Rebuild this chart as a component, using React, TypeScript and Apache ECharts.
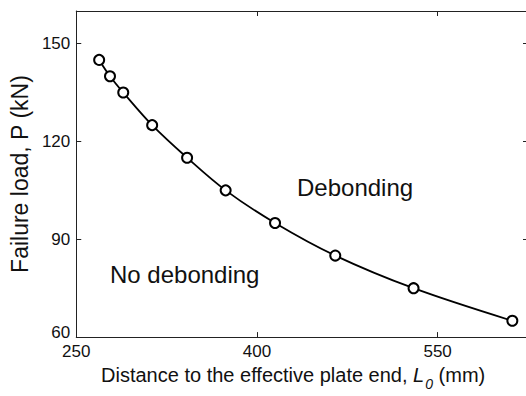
import React, { useEffect, useRef } from "react";
import * as echarts from "echarts";

const distances = [269, 278, 289, 313, 342, 374, 415, 465, 530, 612];
const failureLoads = [145, 140, 135, 125, 115, 105, 95, 85, 75, 65];
const xTickStart = 250;
const xTickStep = 150;
const yTickStart = 60;
const yTickStep = 30;

const textFont = '"Liberation Sans", Arial, sans-serif';
const axisColor = "#222";

export default function App() {
  const ref = useRef<HTMLDivElement>(null);
  useEffect(() => {
    if (!ref.current) return;
    const chart = echarts.init(ref.current, null, { renderer: "svg" });
    const axisLine = { show: true, onZero: false, lineStyle: { color: axisColor, width: 1 } };
    const tick = { show: true, inside: true, length: 5, lineStyle: { color: axisColor, width: 1 } };
    chart.setOption({
      animation: false,
      backgroundColor: "#fff",
      grid: { left: 66, top: 11, right: 0, bottom: 51, containLabel: false },
      xAxis: [
        {
          type: "value",
          position: "bottom",
          min: xTickStart,
          max: 625,
          interval: xTickStep,
          axisLine,
          axisTick: tick,
          splitLine: { show: false },
          axisLabel: {
            showMaxLabel: false,
            color: "#111",
            fontFamily: textFont,
            fontSize: 17,
            margin: 6,
          },
          name: "Distance to the effective plate end, {i|L}{s|0}{n| (mm)}",
          nameLocation: "middle",
          nameGap: 22,
          nameTextStyle: {
            color: "#111",
            fontFamily: textFont,
            fontSize: 20,
            padding: [0, 18, 0, 0],
            rich: {
              i: { fontFamily: textFont, fontSize: 20, fontStyle: "italic", color: "#111" },
              s: { fontFamily: textFont, fontSize: 14, fontStyle: "italic", color: "#111", verticalAlign: "bottom", lineHeight: 14, padding: [0, 0, -6, 1] },
              n: { fontFamily: textFont, fontSize: 20, color: "#111" },
            },
          },
        },
        {
          type: "value",
          position: "top",
          min: xTickStart,
          max: 625,
          interval: xTickStep,
          axisLine,
          axisTick: tick,
          splitLine: { show: false },
          axisLabel: { show: false },
        },
      ],
      yAxis: [
        {
          type: "value",
          position: "left",
          min: yTickStart,
          max: 160,
          interval: yTickStep,
          axisLine,
          axisTick: tick,
          splitLine: { show: false },
          axisLabel: {
            showMaxLabel: false,
            color: "#111",
            fontFamily: textFont,
            fontSize: 17,
            margin: 6,
            formatter: (v: number) => (v === yTickStart ? "{lift|" + v + "}" : String(v)),
            rich: {
              lift: { fontFamily: textFont, fontSize: 17, color: "#111", padding: [0, 0, 9, 0] },
            },
          },
          name: "Failure load, P (kN)",
          nameLocation: "middle",
          nameGap: 29,
          nameTextStyle: { color: "#111", fontFamily: textFont, fontSize: 23 },
        },
        {
          type: "value",
          position: "right",
          min: yTickStart,
          max: 160,
          interval: yTickStep,
          axisLine,
          axisTick: tick,
          splitLine: { show: false },
          axisLabel: { show: false },
        },
      ],
      series: [
        {
          type: "line",
          xAxisIndex: 0,
          yAxisIndex: 0,
          data: distances.map((d, i) => [d, failureLoads[i]]),
          smooth: 0.35,
          symbol: "emptyCircle",
          symbolSize: 10,
          lineStyle: { color: "#000", width: 1.8 },
          itemStyle: { color: "#000", borderColor: "#000", borderWidth: 1.6 },
        },
      ],
      graphic: [
        {
          type: "text",
          left: 297,
          top: 175,
          style: { text: "Debonding", fontFamily: textFont, fontSize: 24, fill: "#111" },
        },
        {
          type: "text",
          left: 110,
          top: 262,
          style: { text: "No debonding", fontFamily: textFont, fontSize: 24, fill: "#111" },
        },
      ],
    });
    return () => chart.dispose();
  }, []);
  return <div ref={ref} style={{ position: "fixed", left: 0, top: 0, width: 528, height: 396 }} />;
}
